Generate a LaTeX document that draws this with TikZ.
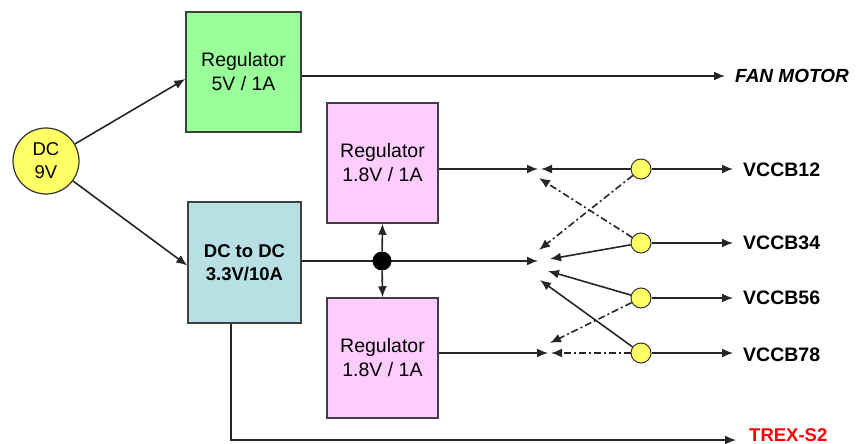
\documentclass[tikz,border=0pt]{standalone}
\usepackage{fontspec}
\setmainfont{Liberation Sans}
\usetikzlibrary{arrows.meta,calc}
\definecolor{boxgreen}{RGB}{153,255,153}
\definecolor{boxblue}{RGB}{183,223,228}
\definecolor{boxpink}{RGB}{255,204,255}
\definecolor{dotyellow}{RGB}{255,255,102}
\definecolor{trexred}{RGB}{255,0,0}
\begin{document}
\begin{tikzpicture}[x=1pt,y=-1pt,
  box/.style={draw=black!75,line width=1.5pt,align=center,inner sep=0pt,
    font=\fontsize{19.5}{24}\selectfont},
  arr/.style={-{Latex[length=11pt,width=9pt]},line width=1.6pt,draw=black!85},
  dd/.style={dash pattern=on 7pt off 3pt on 2pt off 3pt},
  tap/.style={circle,draw=black!80,fill=dotyellow,minimum size=20pt,inner sep=0pt,line width=1pt},
  lbl/.style={anchor=west,inner sep=0pt,font=\fontsize{19.5}{22}\selectfont\bfseries}
]
\useasboundingbox (0,0) rectangle (860,444);

% source
\node[circle,draw=black!80,fill=dotyellow,line width=1.2pt,minimum size=66pt,inner sep=0pt,
  align=center,font=\fontsize{18.5}{23}\selectfont] (dc) at (46,161) {DC\\9V};

% boxes
\node[box,fill=boxgreen,minimum width=115pt,minimum height=120pt] (reg5) at (243.5,72) {Regulator\\5V / 1A};
\node[box,fill=boxblue,minimum width=113pt,minimum height=121pt,
  font=\fontsize{18.5}{23}\selectfont\bfseries] (dcdc) at (244.5,262.5) {DC to DC\\3.3V/10A};
\node[box,fill=boxpink,minimum width=111pt,minimum height=120pt] (rega) at (382.5,163) {Regulator\\1.8V / 1A};
\node[box,fill=boxpink,minimum width=111pt,minimum height=120pt] (regb) at (382.5,358) {Regulator\\1.8V / 1A};

% tap circles
\node[tap] (c12) at (641,169) {};
\node[tap] (c34) at (641,243) {};
\node[tap] (c56) at (641,298) {};
\node[tap] (c78) at (641,353) {};

% end points
\coordinate (t1) at (538,169);
\coordinate (t1b) at (541,169);
\coordinate (tm) at (538,261);
\coordinate (t3) at (548,353);
\coordinate (t3b) at (551,353);
\coordinate (a12) at (539,250);
\coordinate (a34) at (539,178);
\coordinate (a56) at (550,343);
\coordinate (b34) at (550,259);
\coordinate (b56) at (548,271);
\coordinate (b78) at (540,280);
\coordinate (o0) at (725,76);
\coordinate (o1) at (733,169);
\coordinate (o2) at (733,243);
\coordinate (o3) at (733,298);
\coordinate (o4) at (733,353);
\coordinate (o5) at (736,440);

% source connectors
\draw[arr] (dc) -- ([yshift=-7pt]reg5.west);
\draw[arr] (dc) -- ([yshift=-3pt]dcdc.west);

% main lines
\draw[arr] (reg5.east |- o0) -- (o0);
\draw[arr] (dcdc.east |- tm) -- (tm);
\node[circle,fill=black,minimum size=19pt,inner sep=0pt] (jn) at (382,261) {};
\draw[arr] (jn) -- (rega.south);
\draw[arr] (jn) -- (regb.north);
\draw[arr] (rega.east |- t1) -- (t1);
\draw[arr] (regb.east |- t3) -- (t3);
\draw[arr] ([xshift=-13.5pt]dcdc.south) |- (o5);

% tap connectors
\draw[arr] (c12) -- (t1b);
\draw[arr,dd] (c12) -- (a12);
\draw[arr,dd] (c34) -- (a34);
\draw[arr] (c34) -- (b34);
\draw[arr] (c56) -- (b56);
\draw[arr,dd] (c56) -- (a56);
\draw[arr] (c78) -- (b78);
\draw[arr,dd] (c78) -- (t3b);

% outputs
\draw[arr] (c12) -- (o1);
\draw[arr] (c34) -- (o2);
\draw[arr] (c56) -- (o3);
\draw[arr] (c78) -- (o4);

% labels
\node[lbl,font=\fontsize{19}{22}\selectfont\bfseries\itshape] (lfan) at (735,76) {FAN MOTOR};
\node[lbl] (l12) at (743,170) {VCCB12};
\node[lbl] (l34) at (743,243) {VCCB34};
\node[lbl] (l56) at (743,298) {VCCB56};
\node[lbl] (l78) at (743,355) {VCCB78};
\node[lbl,text=trexred,font=\fontsize{18.5}{22}\selectfont\bfseries] (ltrex) at (749,435) {TREX-S2};
\end{tikzpicture}
\end{document}
